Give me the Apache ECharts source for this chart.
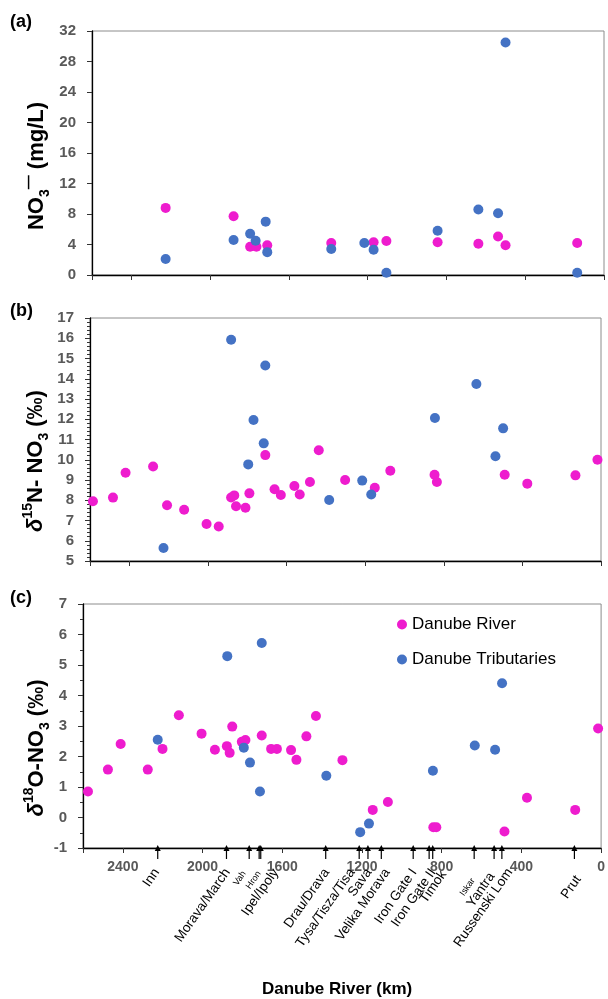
<!DOCTYPE html>
<html><head><meta charset="utf-8">
<script src="https://cdn.jsdelivr.net/npm/echarts@6/dist/echarts.min.js"></script>
<style>html,body{margin:0;padding:0;background:#fff}#c{width:608px;height:999px}</style>
</head><body><div id="c"></div><script>
// ---------- data ----------
const kmRiverA = [2226,1881,1797,1765,1710,1385,1170,1105,845,638,538,500,136];
const no3River = [8.8,7.7,3.7,3.7,3.9,4.2,4.3,4.45,4.3,4.1,5.06,3.9,4.2];
const kmTribA  = [2226,1881,1797,1769,1718,1710,1385,1217,1170,1105,845,638,538,500,136];
const no3Trib  = [2.1,4.6,5.4,4.5,7.0,3.0,3.4,4.2,3.3,0.3,5.8,8.6,8.1,30.5,0.3];

const kmRiverB  = [2585,2483,2419,2279,2208,2121,2007,1945,1882,1866,1857,1809,1789,1708,1661,1629,1560,1533,1481,1436,1302,1151,1072,847,835,490,375,130,18];
const d15NRiver = [7.95,8.13,9.36,9.67,7.75,7.53,6.83,6.70,8.14,8.24,7.70,7.63,8.34,10.23,8.54,8.26,8.70,8.28,8.90,10.47,9.0,8.62,9.46,9.26,8.90,9.26,8.82,9.23,10.0];
const kmTribB   = [2226,1882,1795,1768,1716,1708,1383,1215,1169,845,634,537,498];
const d15NTrib  = [5.64,15.93,9.77,11.96,10.81,14.65,8.01,8.97,8.28,12.06,13.74,10.17,11.55];

const kmRiverC  = [2575,2475,2411,2275,2201,2119,2005,1938,1878,1864,1851,1803,1785,1703,1656,1627,1556,1529,1479,1431,1298,1146,1070,842,827,485,372,130,15];
const d18ORiver = [0.85,1.57,2.41,1.57,2.25,3.35,2.75,2.22,2.34,2.12,2.98,2.48,2.54,2.69,2.25,2.25,2.21,1.89,2.66,3.33,1.88,0.25,0.51,-0.32,-0.32,-0.46,0.65,0.25,2.92];
const kmTribC   = [2225,1876,1793,1762,1712,1703,1379,1209,1165,844,634,532,497];
const d18OTrib  = [2.55,5.29,2.29,1.80,0.85,5.72,1.37,-0.48,-0.20,1.53,2.36,2.22,4.40];

const tribNames = ['Inn','Morava/March','Vah','Hron','Ipel/Ipoly','Drau/Drava','Tysa/Tisza/Tisa','Sava','Velika Morava','Iron Gate I','Iron Gate II','Timok','Iskar','Yantra','Russenski Lom','Prut'];
const tribKm    = [2225,1880,1766,1716,1708,1382,1214,1170,1103,943,863,845,637,537,498,134];

const seriesNames = ['Danube River','Danube Tributaries'];
const panelLetters = ['(a)','(b)','(c)'];
const yTitles = ['{b|NO}{sub|3}{sup|—}{b| (mg/L)}', '{i|δ}{sup|15}{b|N- NO}{sub|3}{b| (‰)}', '{i|δ}{sup|18}{b|O-NO}{sub|3}{b| (‰)}'];

// ---------- styling ----------
const FF = "'Liberation Sans', Arial, sans-serif";
const MAG = '#EE1CCE', BLUE = '#4472C4';
const labelTweak = {
  'Inn':{dx:-2}, 'Vah':{dx:-6,dy:2,fs:9}, 'Hron':{dx:-1,dy:2,fs:9}, 'Ipel/Ipoly':{dx:14},
  'Tysa/Tisza/Tisa':{dx:-8}, 'Velika Morava':{dx:5}, 'Iron Gate II':{dx:3},
  'Timok':{dx:10,dy:2}, 'Iskar':{dx:-2,dy:9,fs:9}, 'Yantra':{dx:-3,dy:4},
  'Russenski Lom':{dx:7}, 'Prut':{dx:3,dy:7}
};
const grids = [
  {left:92, right:4, top:31, height:244},
  {left:90, right:7, top:318, height:243},
  {left:83, right:2, top:604, height:245}
];
const titlePos = [[37,166],[36,461],[37,748]];
const letterTop = [13,302,589];
const pairs = (xs, ys) => xs.map((x,i)=>[x, ys[i]]);

function xAxisCfg(g, showLabels){
  return {
    type:'value', gridIndex:g, min:0, max:2600, interval:400, inverse:true,
    axisLine:{onZero:false, lineStyle:{color:'#000', width:1.3}},
    axisTick:{show:true, inside:false, length:5, lineStyle:{color:'#333'}},
    axisLabel:{show:showLabels, margin:12, fontFamily:FF, fontWeight:'bold', fontSize:14, color:'#595959',
      formatter: v => (v % 400 === 0 ? String(v) : '')},
    splitLine:{show:false},
    name: showLabels ? 'Danube River (km)' : '',
    nameLocation:'middle', nameGap:133,
    nameTextStyle:{fontFamily:FF, fontWeight:'bold', fontSize:17, color:'#000', padding:[0,10,0,0]}
  };
}
const rich = {
  b:{fontFamily:FF, fontWeight:'bold', fontSize:22, fill:'#000', color:'#000', lineHeight:30},
  i:{fontFamily:FF, fontWeight:'bold', fontStyle:'italic', fontSize:22, fill:'#000', color:'#000', lineHeight:30},
  sub:{fontFamily:FF, fontWeight:'bold', fontSize:14, fill:'#000', color:'#000', verticalAlign:'bottom', lineHeight:14},
  sup:{fontFamily:FF, fontWeight:'bold', fontSize:14, fill:'#000', color:'#000', verticalAlign:'top', lineHeight:14}
};
function yAxisCfg(g, min, max, interval, minorSplit){
  return {
    type:'value', gridIndex:g, min, max, interval,
    axisLine:{onZero:false, lineStyle:{color:'#000', width:1.3}},
    axisTick:{length:5, lineStyle:{color:'#333'}},
    minorTick:{show:minorSplit>0, splitNumber:minorSplit||5, length:3, lineStyle:{color:'#333'}},
    axisLabel:{margin:16, fontFamily:FF, fontWeight:'bold', fontSize:15, color:'#595959'},
    splitLine:{show:false}, minorSplitLine:{show:false}
  };
}
function scatter(name, data, g, color){
  return {type:'scatter', name, xAxisIndex:g, yAxisIndex:g, data, symbolSize:10,
    itemStyle:{color, opacity:1}, emphasis:{disabled:true}};
}

const graphics = [];
panelLetters.forEach((t,i)=>graphics.push({type:'text', left:10, top:letterTop[i],
  style:{text:t, fontFamily:FF, fontWeight:'bold', fontSize:18, fill:'#000'}}));
yTitles.forEach((t,i)=>graphics.push({type:'text', x:titlePos[i][0], y:titlePos[i][1], rotation:Math.PI/2,
  style:{text:t, rich, x:0, y:0, align:'center', verticalAlign:'middle'}}));

const option = {
  animation:false,
  grid: grids.map(g => Object.assign({show:true, borderColor:'#8c8c8c', borderWidth:1, backgroundColor:'transparent'}, g)),
  xAxis:[xAxisCfg(0,false), xAxisCfg(1,false), xAxisCfg(2,true)],
  yAxis:[ yAxisCfg(0, 0, 32, 4, 0), yAxisCfg(1, 5, 17, 1, 5), yAxisCfg(2, -1, 7, 1, 2) ],
  legend:{data:seriesNames, orient:'vertical', left:392, top:611, itemWidth:10, itemHeight:10, itemGap:18,
    icon:'circle', textStyle:{fontFamily:FF, fontSize:17, color:'#000'}, selectedMode:false},
  graphic: graphics,
  series:[
    scatter(seriesNames[0], pairs(kmRiverA, no3River), 0, MAG),
    scatter(seriesNames[1], pairs(kmTribA, no3Trib), 0, BLUE),
    scatter(seriesNames[0], pairs(kmRiverB, d15NRiver), 1, MAG),
    scatter(seriesNames[1], pairs(kmTribB, d15NTrib), 1, BLUE),
    scatter(seriesNames[0], pairs(kmRiverC, d18ORiver), 2, MAG),
    scatter(seriesNames[1], pairs(kmTribC, d18OTrib), 2, BLUE),
    {
      type:'custom', xAxisIndex:2, yAxisIndex:2, clip:false, z:10, silent:true,
      data: tribKm.map(k => [k, -1]),
      encode:{x:0, y:1},
      renderItem: function(params, api){
        const p = api.coord([api.value(0), api.value(1)]);
        const name = tribNames[params.dataIndex];
        const t = labelTweak[name] || {};
        return {type:'group', children:[
          {type:'line', shape:{x1:p[0], y1:p[1], x2:p[0], y2:p[1]+11}, style:{stroke:'#000', lineWidth:1.2}},
          {type:'polygon', shape:{points:[[p[0],p[1]-3],[p[0]-3,p[1]+3],[p[0]+3,p[1]+3]]}, style:{fill:'#000'}},
          {type:'text', x:p[0]+1+(t.dx||0), y:p[1]+22+(t.dy||0), rotation:55*Math.PI/180,
            style:{text:name, x:0, y:0, align:'right', verticalAlign:'middle',
              fontFamily:FF, fontSize:t.fs||13.5, fill:'#000'}}
        ]};
      }
    }
  ]
};
const chart = echarts.init(document.getElementById('c'), null, {renderer:'canvas'});
chart.setOption(option);
</script></body></html>
